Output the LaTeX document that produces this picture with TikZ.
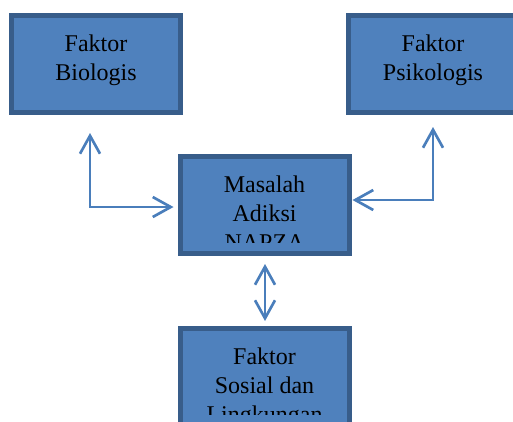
\documentclass[tikz,border=0pt]{standalone}
\usepackage{fontspec}
\setmainfont{Liberation Serif}
\usepackage{tikz}
\usetikzlibrary{
  arrows.meta,
  calc
}
\definecolor{boxfill}{RGB}{79,129,189}
\definecolor{boxline}{RGB}{56,93,138}
\definecolor{linkblue}{RGB}{74,126,187}

\begin{document}
\begin{tikzpicture}[x=0.75pt, y=-0.75pt,
  faktor/.style={draw=boxline, line width=3.75pt, fill=boxfill, inner sep=0pt,
    minimum width=126.75pt, minimum height=72.75pt},
  boxtext/.style={anchor=north, inner sep=0pt, align=center,
    font=\fontsize{18}{21.75}\selectfont},
  link/.style={draw=linkblue, line width=2pt,
    {Straight Barb[length=13.5pt, width=15pt]}-{Straight Barb[length=13.5pt, width=15pt]}}]
  \useasboundingbox (0,0) rectangle (513,421);
  \clip (0,0) rectangle (513,421);

  % kotak
  \node[faktor] (bio) at (96,63.5) {};
  \node[faktor] (psi) at (433,63.5) {};
  \node[faktor] (masalah) at (264.5,205) {};
  \node[faktor] (sosial) at (264.5,377) {};

  \node[boxtext] (biotext) at ([shift={(0,21.6)}]bio.north) {Faktor\\Biologis};
  \node[boxtext] (psitext) at ([shift={(0,21.6)}]psi.north) {Faktor\\Psikologis};
  \begin{scope}
    \clip ([shift={(5,5)}]masalah.north west) rectangle ([shift={(-5,-14)}]masalah.south east);
    \node[boxtext] (masalahtext) at ([shift={(0,21.6)}]masalah.north) {Masalah\\Adiksi\\NAPZA};
  \end{scope}
  \begin{scope}
    \clip ([shift={(5,5)}]sosial.north west) rectangle ([shift={(-5,-14)}]sosial.south east);
    \node[boxtext] (sosialtext) at ([shift={(0,21.6)}]sosial.north) {Faktor\\Sosial dan\\Lingkungan};
  \end{scope}

  % panah
  \coordinate (bioend) at (90,133);
  \coordinate (psiend) at (433,127);
  \draw[link] (bioend) |- ([shift={(-4,2)}]masalah.west);
  \draw[link] (psiend) |- ([shift={(1,-5)}]masalah.east);
  \draw[link] ([shift={(0.5,8)}]masalah.south) -- ([shift={(0.5,-5)}]sosial.north);
\end{tikzpicture}
\end{document}
